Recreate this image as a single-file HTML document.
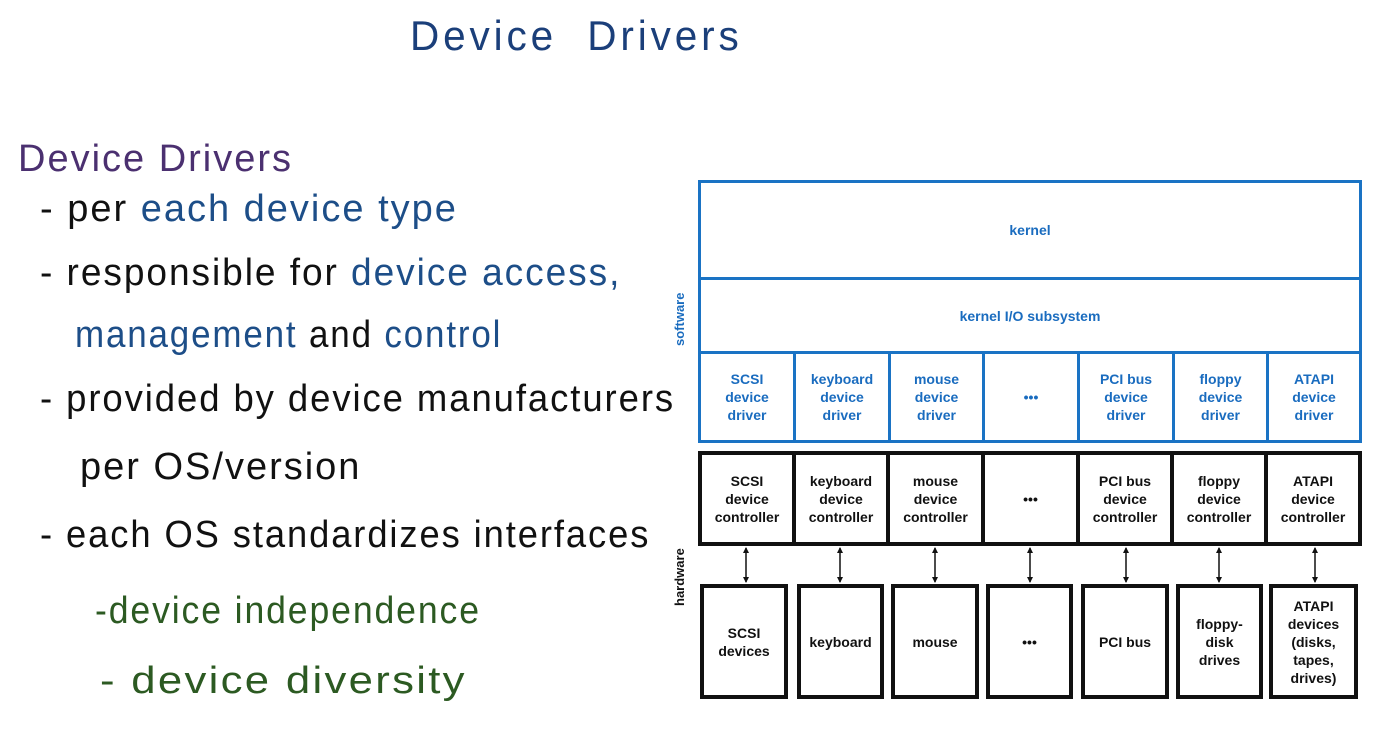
<!DOCTYPE html>
<html><head><meta charset="utf-8"><style>
body{margin:0;width:1374px;height:739px;background:#fff;position:relative;overflow:hidden;font-family:"Liberation Sans",sans-serif}
.h{position:absolute;white-space:nowrap;font-size:38px;letter-spacing:2px;font-family:"Liberation Sans",sans-serif;transform-origin:left center}
.bl{color:#1d4e88}.k{color:#111}.g{color:#2c5a22}
.box{position:absolute;box-sizing:border-box;display:flex;align-items:center;justify-content:center;text-align:center;font-weight:bold;font-size:14px;line-height:18px}
.sw{border:3px solid #1a73c4;color:#1a6cbf}
.hw{border:4px solid #111;color:#111}
</style></head><body>
<div class="h" style="left:410px;top:12px;color:#1b3f7a;font-size:42px;letter-spacing:4px;transform:scaleX(0.965)">Device&nbsp;&nbsp;Drivers</div>
<div class="h" style="left:18px;top:138px;color:#4b3070;font-size:38px">Device Drivers</div>
<div class="h k" style="left:40px;top:188px">- per <span class="bl">each device type</span></div>
<div class="h k" style="left:40px;top:252px;transform:scaleX(0.975)">- responsible for <span class="bl">device access,</span></div>
<div class="h bl" style="left:75px;top:314px;transform:scaleX(0.92)">management <span class="k">and</span> control</div>
<div class="h k" style="left:40px;top:378px;transform:scaleX(0.96)">- provided by device manufacturers</div>
<div class="h k" style="left:80px;top:446px">per OS/version</div>
<div class="h k" style="left:40px;top:514px;transform:scaleX(0.956)">- each OS standardizes interfaces</div>
<div class="h g" style="left:95px;top:590px;transform:scaleX(0.937)">-device independence</div>
<div class="h g" style="left:100px;top:660px;transform:scaleX(1.15)">- device diversity</div>

<div style="position:absolute;left:672px;top:346px;transform:rotate(-90deg);transform-origin:left top;color:#1a6cbf;font-weight:bold;font-size:13px">software</div>
<div style="position:absolute;left:672px;top:606px;transform:rotate(-90deg);transform-origin:left top;color:#111;font-weight:bold;font-size:13px">hardware</div>

<div class="box sw" style="left:698px;top:180px;width:664px;height:100px">kernel</div>
<div class="box sw" style="left:698px;top:277px;width:664px;height:77px">kernel I/O subsystem</div>
<div class="box sw" style="left:698px;top:351px;width:98px;height:92px">SCSI<br>device<br>driver</div>
<div class="box sw" style="left:793px;top:351px;width:98px;height:92px">keyboard<br>device<br>driver</div>
<div class="box sw" style="left:888px;top:351px;width:97px;height:92px">mouse<br>device<br>driver</div>
<div class="box sw" style="left:982px;top:351px;width:98px;height:92px">•••</div>
<div class="box sw" style="left:1077px;top:351px;width:98px;height:92px">PCI bus<br>device<br>driver</div>
<div class="box sw" style="left:1172px;top:351px;width:97px;height:92px">floppy<br>device<br>driver</div>
<div class="box sw" style="left:1266px;top:351px;width:96px;height:92px">ATAPI<br>device<br>driver</div>

<div class="box hw" style="left:698px;top:451px;width:98px;height:95px">SCSI<br>device<br>controller</div>
<div class="box hw" style="left:792px;top:451px;width:98px;height:95px">keyboard<br>device<br>controller</div>
<div class="box hw" style="left:886px;top:451px;width:99px;height:95px">mouse<br>device<br>controller</div>
<div class="box hw" style="left:981px;top:451px;width:99px;height:95px">•••</div>
<div class="box hw" style="left:1076px;top:451px;width:98px;height:95px">PCI bus<br>device<br>controller</div>
<div class="box hw" style="left:1170px;top:451px;width:98px;height:95px">floppy<br>device<br>controller</div>
<div class="box hw" style="left:1264px;top:451px;width:98px;height:95px">ATAPI<br>device<br>controller</div>

<div class="box hw" style="left:700px;top:584px;width:88px;height:115px">SCSI<br>devices</div>
<div class="box hw" style="left:797px;top:584px;width:87px;height:115px">keyboard</div>
<div class="box hw" style="left:891px;top:584px;width:88px;height:115px">mouse</div>
<div class="box hw" style="left:986px;top:584px;width:87px;height:115px">•••</div>
<div class="box hw" style="left:1081px;top:584px;width:88px;height:115px">PCI bus</div>
<div class="box hw" style="left:1176px;top:584px;width:87px;height:115px">floppy-<br>disk<br>drives</div>
<div class="box hw" style="left:1269px;top:584px;width:89px;height:115px">ATAPI<br>devices<br>(disks,<br>tapes,<br>drives)</div>

<svg width="1374" height="739" style="position:absolute;left:0;top:0" >
<defs><marker id="a" markerWidth="6" markerHeight="6" refX="5" refY="3" orient="auto-start-reverse" markerUnits="userSpaceOnUse"><path d="M0,0 L6,3 L0,6z" fill="#111"/></marker></defs>
<g stroke="#111" stroke-width="1.5" marker-start="url(#a)" marker-end="url(#a)">
<line x1="746" y1="548" x2="746" y2="582"/>
<line x1="840" y1="548" x2="840" y2="582"/>
<line x1="935" y1="548" x2="935" y2="582"/>
<line x1="1030" y1="548" x2="1030" y2="582"/>
<line x1="1126" y1="548" x2="1126" y2="582"/>
<line x1="1219" y1="548" x2="1219" y2="582"/>
<line x1="1315" y1="548" x2="1315" y2="582"/>
</g></svg>
</body></html>
